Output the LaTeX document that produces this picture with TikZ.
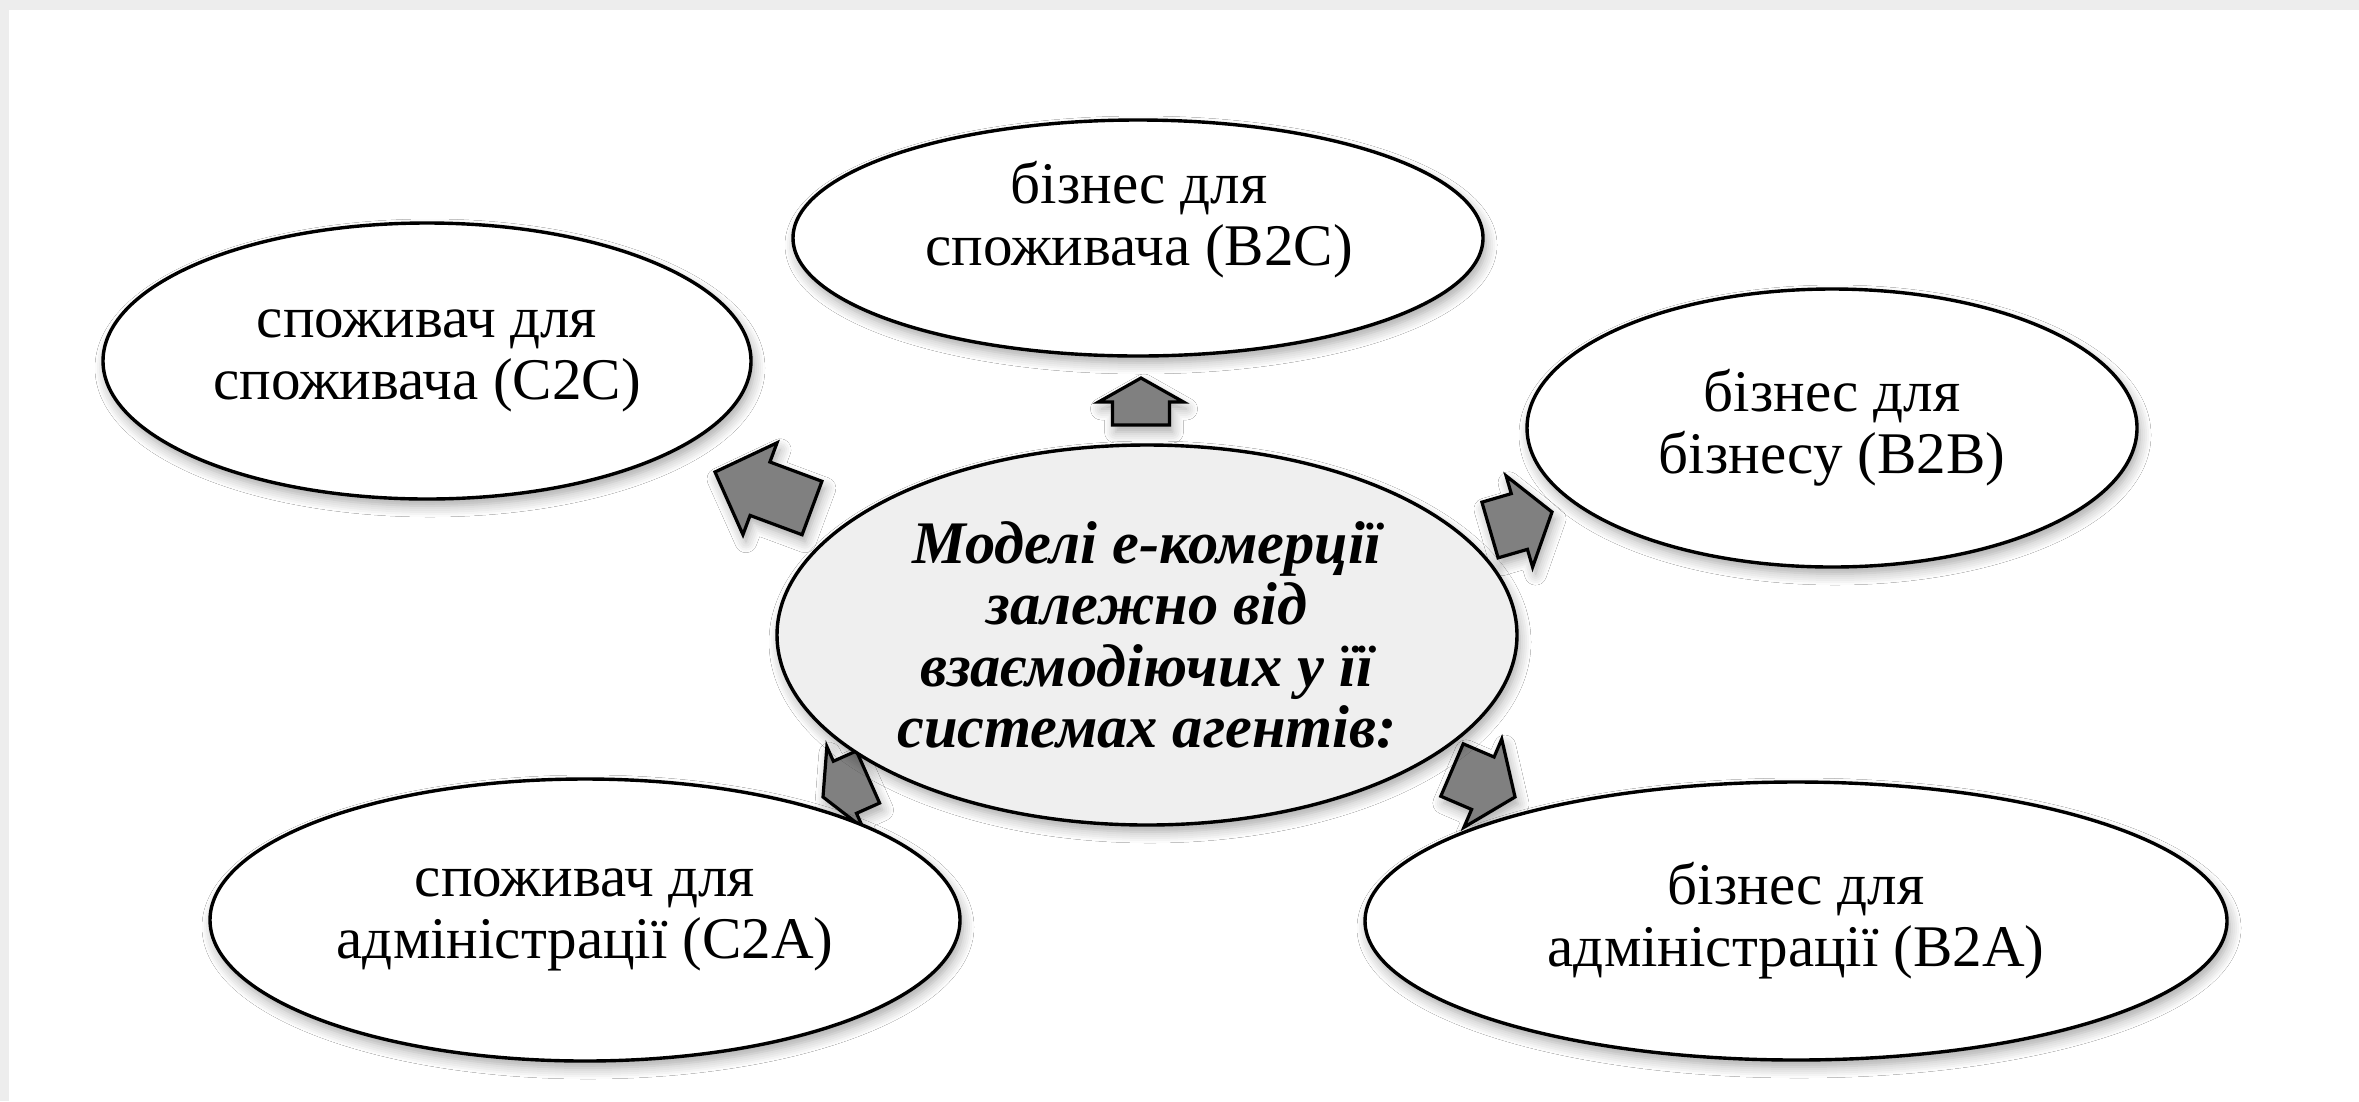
\documentclass[tikz,border=0pt]{standalone}
\usepackage{fontspec}
\setmainfont{Liberation Serif}
\usetikzlibrary{shapes.geometric,calc,shadows.blur}
\definecolor{bggray}{HTML}{EDEDED}
\definecolor{centerfill}{HTML}{EFEFEF}
\definecolor{arrowfill}{HTML}{808080}
\newcommand\blockarr[6]{%
  \coordinate (#1T) at #2;
  \coordinate (#1P) at #3;
  \coordinate (#1H) at ($(#1P)!#4!(#1T)$);
  \filldraw[arrowshape] ($(#1T)!#6!90:(#1P)$) -- ($(#1H)!#6!-90:(#1T)$) -- ($(#1H)!#5!-90:(#1T)$) -- (#1P) -- ($(#1H)!#5!90:(#1T)$) -- ($(#1H)!#6!90:(#1T)$) -- ($(#1T)!#6!-90:(#1P)$) -- cycle;}
\begin{document}
\begin{tikzpicture}[x=0.1mm,y=-0.1mm,
  softshadow/.style={blur shadow={shadow blur steps=6, shadow xshift=0.3mm, shadow yshift=-0.7mm, shadow blur radius=1.1mm, shadow opacity=35}},
  outer/.style={ellipse, draw=black, line width=0.34mm, fill=white, inner sep=0pt, align=center, softshadow,
    font=\fontsize{16.8pt}{17.6pt}\selectfont},
  hub/.style={ellipse, draw=black, line width=0.34mm, fill=centerfill, inner sep=0pt, align=center, softshadow,
    font=\fontsize{17.2pt}{17.4pt}\selectfont\bfseries\itshape},
  lbl/.style={inner sep=0pt, align=center, font=\fontsize{16.8pt}{17.6pt}\selectfont},
  arrowshape/.style={fill=arrowfill, draw=black, line width=0.32mm, line join=miter, softshadow}]
\useasboundingbox (0,0) rectangle (2359,1101);
\fill[bggray] (0,0) rectangle (2359,1101);
\fill[white] (9,10) rectangle (2359,1101);

% arrows
\blockarr{atop}{(1141,425)}{(1141,378)}{2.4mm}{4.25mm}{2.85mm}
\blockarr{aul}{(812,508)}{(715,472)}{4.8mm}{4.9mm}{2.85mm}
\blockarr{aur}{(1490,530)}{(1552,512)}{3.4mm}{4.75mm}{2.9mm}
\blockarr{all}{(868,777)}{(823,797)}{2.4mm}{4.45mm}{2.85mm}
\blockarr{alr}{(1452,770)}{(1515,797)}{3.5mm}{4.8mm}{2.85mm}

% ellipses
\node[outer, minimum width=69.0mm, minimum height=23.6mm] (b2c) at (1138,238) {};
\node[lbl] (b2ctext) at (1139,220) {бізнес для\\споживача (B2C)};
\node[outer, minimum width=64.8mm, minimum height=27.6mm] (c2c) at (427,361) {споживач для\\споживача (C2C)};
\node[outer, minimum width=61.0mm, minimum height=27.8mm] (b2b) at (1832,428) {бізнес для\\бізнесу (B2B)};
\node[hub, minimum width=74.0mm, minimum height=38.0mm] (hub) at (1147,635) {Моделі е-комерції\\залежно від\\взаємодіючих у її\\системах агентів:};
\node[outer, minimum width=75.0mm, minimum height=28.2mm] (c2a) at (585,920) {споживач для\\адміністрації (C2A)};
\node[outer, minimum width=86.2mm, minimum height=27.8mm] (b2a) at (1796,921) {бізнес для\\адміністрації (B2A)};
\end{tikzpicture}
\end{document}
